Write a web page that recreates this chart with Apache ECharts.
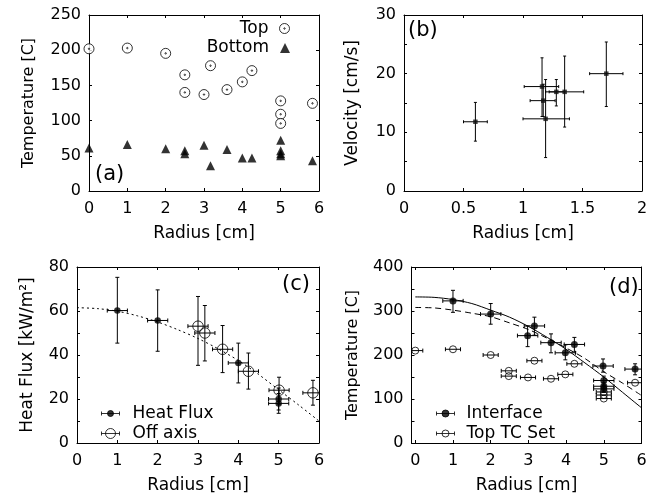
<!DOCTYPE html>
<html><head><meta charset="utf-8">
<script src="https://cdn.jsdelivr.net/npm/echarts@6/dist/echarts.min.js"></script>
<style>html,body{margin:0;padding:0;background:#fff}#c{width:655px;height:504px}</style>
</head><body><div id="c"></div>
<script>
// ---------- (a) ----------
const topRadius = [0, 1, 2, 2.5, 2.5, 3, 3.17, 3.6, 4, 4.25, 5, 5, 5, 5.83];
const topTemp = [202, 203, 195.5, 165, 140, 137, 178, 144, 155, 171, 128, 109, 96, 124.5];
const bottomRadius = [0, 1, 2, 2.5, 2.5, 3, 3.17, 3.6, 4, 4.25, 5, 5, 5, 5, 5.83];
const bottomTemp = [61, 66, 60, 57, 53, 65, 36, 59, 47, 47, 72, 57, 53, 50, 43];
// ---------- (b) ----------
const velRadius = [0.60, 1.16, 1.17, 1.19, 1.28, 1.35, 1.70];
const velocity = [11.8, 17.8, 15.4, 12.3, 16.9, 16.9, 20.0];
const velRadiusLo = [0.50, 1.01, 1.06, 1.00, 1.22, 1.19, 1.56];
const velRadiusHi = [0.70, 1.30, 1.27, 1.39, 1.35, 1.51, 1.84];
const velLo = [8.5, 12.7, 12.7, 5.7, 14.5, 10.9, 14.4];
const velHi = [15.1, 22.7, 18.2, 19.0, 19.0, 23.0, 25.4];
// ---------- (c) ----------
const hfRadius = [1, 2, 4, 5, 5];
const heatFlux = [60.2, 55.7, 36.4, 20.0, 18.0];
const hfLo = [45.4, 41.7, 27.3, 15.0, 13.5];
const hfHi = [75.3, 69.6, 45.4, 25.0, 22.5];
const hfRErr = [0.25, 0.25, 0.25, 0.25, 0.25];
const offRadius = [3.0, 3.17, 3.61, 4.25, 5.01, 5.85];
const offAxis = [53.1, 50.0, 42.6, 32.6, 24.0, 22.8];
const offLo = [35.3, 37.3, 32.0, 24.5, 17.7, 17.2];
const offHi = [66.6, 62.5, 53.4, 40.9, 29.9, 28.5];
const offRErr = [0.25, 0.25, 0.25, 0.25, 0.25, 0.25];
const fitRadius = [0, 0.5, 1, 1.5, 2, 2.5, 3, 3.5, 4, 4.5, 5, 5.5, 6];
const hfFit = [61.5, 61.1, 59.9, 57.8, 55.0, 51.5, 47.5, 42.8, 37.5, 31.2, 24.2, 17.2, 10.0];
// ---------- (d) ----------
const ifRadius = [1, 2, 2.98, 3.16, 3.6, 3.98, 4.22, 4.98, 5, 5, 5, 5.83];
const interfaceT = [323, 293, 244, 266, 228, 205, 224, 175, 142, 129, 123, 168];
const ifLo = [297, 270, 219, 245, 205, 189, 207, 161, 132, 120, 115, 155];
const ifHi = [347, 317, 266, 286, 248, 223, 240, 191, 152, 138, 131, 180];
const ifRErr = [0.27, 0.27, 0.27, 0.27, 0.27, 0.27, 0.27, 0.27, 0.27, 0.27, 0.27, 0.27];
const tcRadius = [0, 1, 2, 2.48, 2.48, 2.99, 3.16, 3.6, 3.98, 4.22, 5, 5, 5, 5.83];
const topTC = [210, 213, 200, 164, 152, 149, 187, 146, 156, 180, 116, 109, 101, 137];
const tcRErr = [0.2, 0.2, 0.2, 0.2, 0.2, 0.2, 0.2, 0.2, 0.2, 0.2, 0.2, 0.2, 0.2, 0.2];
const tempFitSolid = [332, 331, 326, 317, 302, 286, 265, 240, 213, 182, 150, 115, 80];
const tempFitDashed = [308, 307, 302, 295, 287, 273, 258, 238, 216, 192, 162, 136, 108];

const FONT = '"DejaVu Sans", "Liberation Sans", Arial, sans-serif';
const NAME_TXT = {fontFamily: FONT, fontSize: 17, color: '#000'};

function pairs(xs, ys) { return xs.map((x, i) => [x, ys[i]]); }
function errRows(xs, ys, xlo, xhi, ylo, yhi) { return xs.map((x, i) => [x, ys[i], xlo[i], xhi[i], ylo[i], yhi[i]]); }
function symErr(xs, ys, xerr, ylo, yhi) {
  return errRows(xs, ys, xs.map((x, i) => x - xerr[i]), xs.map((x, i) => x + xerr[i]),
    ylo ? ylo : ys, yhi ? yhi : ys);
}

function xAxisDef(gi, min, max, interval, isTop, fmt) {
  const a = {
    type: 'value', gridIndex: gi, position: isTop ? 'top' : 'bottom', min: min, max: max,
    axisLine: {show: true, onZero: false, lineStyle: {color: '#000', width: 1}},
    axisTick: {show: true, inside: true, length: 3, lineStyle: {color: '#000', width: 1}},
    axisLabel: {show: !isTop, margin: 10, fontFamily: FONT, fontSize: 16, color: '#000', formatter: fmt},
    splitLine: {show: false}
  };
  if (interval != null) a.interval = interval; else a.splitNumber = 6;
  if (!isTop) {
    a.name = 'Radius [cm]'; a.nameLocation = 'middle'; a.nameGap = 34;
    a.nameTextStyle = NAME_TXT;
  }
  return a;
}
function yAxisDef(gi, min, max, interval, isRight, fmt, name, gap, nameSize) {
  const a = {
    type: 'value', gridIndex: gi, position: isRight ? 'right' : 'left', min: min, max: max, interval: interval,
    axisLine: {show: true, onZero: false, lineStyle: {color: '#000', width: 1}},
    axisTick: {show: true, inside: true, length: 3, lineStyle: {color: '#000', width: 1}},
    axisLabel: {show: !isRight, margin: 8, fontFamily: FONT, fontSize: 16, color: '#000', formatter: fmt},
    splitLine: {show: false}
  };
  if (!isRight) {
    a.name = name; a.nameLocation = 'middle'; a.nameGap = gap;
    a.nameTextStyle = {fontFamily: FONT, fontSize: nameSize, color: '#000'};
  }
  return a;
}

function errRender(cap) {
  return function (params, api) {
    const x = api.value(0), y = api.value(1);
    const xl = api.value(2), xh = api.value(3), yl = api.value(4), yh = api.value(5);
    const st = {stroke: '#000', lineWidth: 1, fill: null};
    const ch = [];
    if (xh > xl) {
      const a = api.coord([xl, y]), b = api.coord([xh, y]);
      ch.push({type: 'line', shape: {x1: a[0], y1: a[1], x2: b[0], y2: b[1]}, style: st});
      ch.push({type: 'line', shape: {x1: a[0], y1: a[1] - cap, x2: a[0], y2: a[1] + cap}, style: st});
      ch.push({type: 'line', shape: {x1: b[0], y1: b[1] - cap, x2: b[0], y2: b[1] + cap}, style: st});
    }
    if (yh > yl) {
      const a = api.coord([x, yl]), b = api.coord([x, yh]);
      ch.push({type: 'line', shape: {x1: a[0], y1: a[1], x2: b[0], y2: b[1]}, style: st});
      ch.push({type: 'line', shape: {x1: a[0] - cap, y1: a[1], x2: a[0] + cap, y2: a[1]}, style: st});
      ch.push({type: 'line', shape: {x1: b[0] - cap, y1: b[1], x2: b[0] + cap, y2: b[1]}, style: st});
    }
    return {type: 'group', children: ch};
  };
}
function errSeries(name, gi, rows, cap) {
  return {
    type: 'custom', name: name, xAxisIndex: gi, yAxisIndex: gi, data: rows, clip: true, z: 4,
    renderItem: errRender(cap), encode: {x: [0, 2, 3], y: [1, 4, 5]}, silent: true
  };
}

const TOP_ICON = 'path://M10,5A5,5,0,1,1,0,5A5,5,0,1,1,10,5ZM5.7,5A0.7,0.7,0,1,1,4.3,5A0.7,0.7,0,1,1,5.7,5Z';
function errIcon(r) {
  return 'path://M0,5L18,5M0,3L0,7M18,3L18,7M' + (9 + r) + ',5A' + r + ',' + r + ',0,1,1,' + (9 - r) + ',5A' + r + ',' + r + ',0,1,1,' + (9 + r) + ',5Z';
}
function legendText(pad) {
  return {fontFamily: FONT, fontSize: 17, color: '#000', lineHeight: 12, padding: pad};
}
const legendBase = {selectedMode: false, padding: 0, symbolKeepAspect: true};
const titleStyle = {fontFamily: FONT, fontSize: 21, fontWeight: 'normal', color: '#000'};

const option = {
  animation: false,
  backgroundColor: '#fff',
  grid: [
    {left: 89, top: 15, width: 230, height: 176},
    {left: 404, top: 15, width: 238, height: 176},
    {left: 77, top: 267, width: 242, height: 176},
    {left: 411.5, top: 267, width: 230, height: 176}
  ],
  xAxis: [
    xAxisDef(0, 0, 6, 1, false),
    xAxisDef(1, 0, 2, 0.5, false),
    xAxisDef(2, 0, 6, 1, false),
    xAxisDef(3, -0.1, 6, null, false, v => (v < 0 ? '' : String(v))),
    xAxisDef(0, 0, 6, 1, true),
    xAxisDef(1, 0, 2, 0.5, true),
    xAxisDef(2, 0, 6, 1, true),
    xAxisDef(3, -0.1, 6, null, true)
  ],
  yAxis: [
    yAxisDef(0, 0, 250, 50, false, null, 'Temperature [C]', 52, 16),
    yAxisDef(1, 0, 30, 5, false, v => (v % 10 === 0 ? String(v) : ''), 'Velocity [cm/s]', 43, 17),
    yAxisDef(2, 0, 80, 10, false, v => (v % 20 === 0 ? String(v) : ''), 'Heat Flux [kW/m²]', 41, 17),
    yAxisDef(3, 0, 400, 50, false, v => (v % 100 === 0 ? String(v) : ''), 'Temperature [C]', 51, 16),
    yAxisDef(0, 0, 250, 50, true),
    yAxisDef(1, 0, 30, 5, true),
    yAxisDef(2, 0, 80, 10, true),
    yAxisDef(3, 0, 400, 50, true)
  ],
  title: [
    {text: '(a)', left: 95, top: 164, padding: 0, textStyle: titleStyle},
    {text: '(b)', left: 408, top: 20, padding: 0, textStyle: titleStyle},
    {text: '(c)', left: 282, top: 274, padding: 0, textStyle: titleStyle},
    {text: '(d)', left: 609, top: 277, padding: 0, textStyle: titleStyle}
  ],
  legend: [
    Object.assign({}, legendBase, {
      data: [{name: 'Top', icon: TOP_ICON, itemStyle: {color: '#fff', borderColor: '#000', borderWidth: 1}}],
      right: 365, top: 20, itemWidth: 10, itemHeight: 10, align: 'right',
      textStyle: legendText([0, 6, 0, 0])
    }),
    Object.assign({}, legendBase, {
      data: [{name: 'Bottom', icon: 'triangle', itemStyle: {color: '#000', borderWidth: 0}}],
      right: 365, top: 39.5, itemWidth: 10, itemHeight: 10, align: 'right',
      textStyle: legendText([0, 6, 0, 0])
    }),
    Object.assign({}, legendBase, {
      data: [
        {name: 'Heat Flux', icon: errIcon(3), itemStyle: {color: '#000', borderColor: '#000', borderWidth: 1}},
        {name: 'Off axis', icon: errIcon(5), itemStyle: {color: 'rgba(0,0,0,0)', borderColor: '#000', borderWidth: 1}}
      ],
      orient: 'vertical', left: 101, top: 405, itemWidth: 18, itemHeight: 10, itemGap: 3,
      textStyle: legendText([0, 0, 0, 8])
    }),
    Object.assign({}, legendBase, {
      data: [
        {name: 'Interface', icon: errIcon(3.5), itemStyle: {color: '#000', borderColor: '#000', borderWidth: 1}},
        {name: 'Top TC Set', icon: errIcon(3.5), itemStyle: {color: 'rgba(0,0,0,0)', borderColor: '#000', borderWidth: 1}}
      ],
      orient: 'vertical', left: 436, top: 405, itemWidth: 18, itemHeight: 10, itemGap: 3,
      textStyle: legendText([0, 0, 0, 7])
    })
  ],
  series: [
    // (a)
    {type: 'scatter', name: 'Top', xAxisIndex: 0, yAxisIndex: 0, data: pairs(topRadius, topTemp),
      symbol: TOP_ICON, symbolSize: 10, symbolKeepAspect: true,
      itemStyle: {color: '#fff', borderColor: '#000', borderWidth: 1}, clip: false},
    {type: 'scatter', name: 'Bottom', xAxisIndex: 0, yAxisIndex: 0, data: pairs(bottomRadius, bottomTemp),
      symbol: 'triangle', symbolSize: 9, itemStyle: {color: '#000'}, clip: false},
    // (b)
    errSeries('Velocity err', 1, errRows(velRadius, velocity, velRadiusLo, velRadiusHi, velLo, velHi), 1.5),
    {type: 'scatter', name: 'Velocity', xAxisIndex: 1, yAxisIndex: 1, data: pairs(velRadius, velocity),
      symbol: 'rect', symbolSize: 4.5, itemStyle: {color: '#111'}, z: 5},
    // (c)
    {type: 'line', name: 'Heat Flux fit', xAxisIndex: 2, yAxisIndex: 2, data: pairs(fitRadius, hfFit),
      showSymbol: false, symbol: 'none', smooth: 0.3, lineStyle: {color: '#000', width: 1, type: [2, 3]}, z: 2},
    {type: 'scatter', name: 'Heat Flux', xAxisIndex: 2, yAxisIndex: 2, data: pairs(hfRadius, heatFlux),
      symbol: 'circle', symbolSize: 6.5, itemStyle: {color: '#000'}, z: 3},
    errSeries('Heat Flux err', 2, symErr(hfRadius, heatFlux, hfRErr, hfLo, hfHi), 2),
    {type: 'scatter', name: 'Off axis', xAxisIndex: 2, yAxisIndex: 2, data: pairs(offRadius, offAxis),
      symbol: 'circle', symbolSize: 10.5, itemStyle: {color: 'rgba(0,0,0,0)', borderColor: '#000', borderWidth: 1}, z: 3},
    errSeries('Off axis err', 2, symErr(offRadius, offAxis, offRErr, offLo, offHi), 2),
    // (d)
    {type: 'line', name: 'Fit solid', xAxisIndex: 3, yAxisIndex: 3, data: pairs(fitRadius, tempFitSolid),
      showSymbol: false, symbol: 'none', smooth: 0.3, lineStyle: {color: '#000', width: 1}, z: 2},
    {type: 'line', name: 'Fit dashed', xAxisIndex: 3, yAxisIndex: 3, data: pairs(fitRadius, tempFitDashed),
      showSymbol: false, symbol: 'none', smooth: 0.3, lineStyle: {color: '#000', width: 1, type: [6, 4]}, z: 2},
    {type: 'scatter', name: 'Interface', xAxisIndex: 3, yAxisIndex: 3, data: pairs(ifRadius, interfaceT),
      symbol: 'circle', symbolSize: 7, itemStyle: {color: '#000'}, z: 3},
    errSeries('Interface err', 3, symErr(ifRadius, interfaceT, ifRErr, ifLo, ifHi), 2),
    {type: 'scatter', name: 'Top TC Set', xAxisIndex: 3, yAxisIndex: 3, data: pairs(tcRadius, topTC),
      symbol: 'circle', symbolSize: 7, itemStyle: {color: 'rgba(0,0,0,0)', borderColor: '#000', borderWidth: 1}, z: 3},
    errSeries('Top TC err', 3, symErr(tcRadius, topTC, tcRErr), 2)
  ]
};
const chart = echarts.init(document.getElementById('c'), null, {renderer: 'canvas'});
chart.setOption(option);
</script>
</body></html>
